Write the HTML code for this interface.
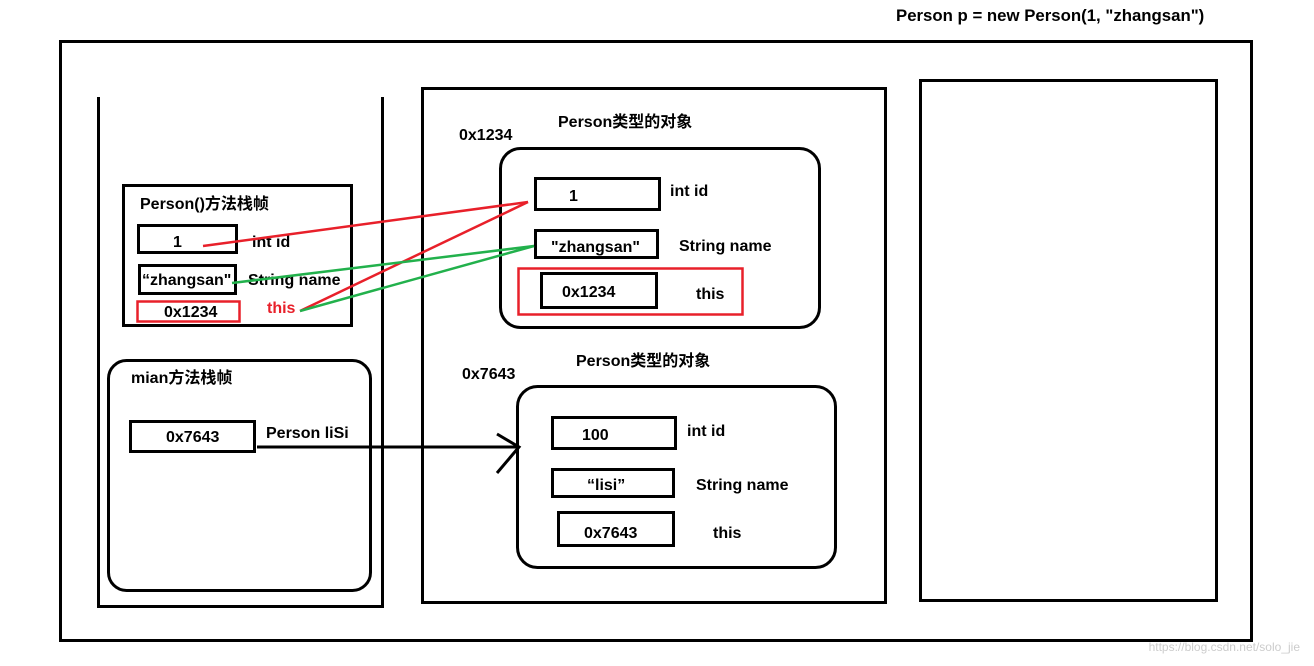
<!DOCTYPE html>
<html><head><meta charset="utf-8"><style>
html,body{margin:0;padding:0;background:#fff;}
svg{display:block;}
text{font-family:"Liberation Sans","Noto Sans CJK SC",sans-serif;font-weight:bold;font-size:16px;fill:#000;}
</style></head><body>
<svg width="1314" height="666" viewBox="0 0 1314 666" xmlns="http://www.w3.org/2000/svg">
<g fill="none" stroke="#000" stroke-width="3">
<rect x="60.5" y="41.5" width="1191" height="599"/>
<polyline points="98.5,97 98.5,606.5 382.5,606.5 382.5,97"/>
<rect x="123.5" y="185.5" width="228" height="140"/>
<rect x="138.5" y="225.5" width="98" height="27"/>
<rect x="139.5" y="265.5" width="96" height="28"/>
<rect x="108.5" y="360.5" width="262" height="230" rx="18"/>
<rect x="130.5" y="421.5" width="124" height="30"/>
<rect x="422.5" y="88.5" width="463" height="514"/>
<rect x="500.5" y="148.5" width="319" height="179" rx="20"/>
<rect x="535.5" y="178.5" width="124" height="31"/>
<rect x="535.5" y="230.5" width="122" height="27"/>
<rect x="541.5" y="273.5" width="115" height="34"/>
<rect x="517.5" y="386.5" width="318" height="181" rx="20"/>
<rect x="552.5" y="417.5" width="123" height="31"/>
<rect x="552.5" y="469.5" width="121" height="27"/>
<rect x="558.5" y="512.5" width="115" height="33"/>
<rect x="920.5" y="80.5" width="296" height="520"/>
<line x1="257" y1="447" x2="519" y2="447"/>
<polyline points="497,434 519,447 497,473"/>
</g>
<g fill="none" stroke="#e8202a" stroke-width="2.5">
<rect x="137.5" y="301.5" width="102" height="20"/>
<rect x="518.5" y="268.5" width="224" height="46"/>
</g>
<text x="140" y="209">Person()方法栈帧</text>
<text x="173" y="247">1</text>
<text x="252" y="247">int id</text>
<text x="142" y="285">“zhangsan"</text>
<text x="248" y="285">String name</text>
<text x="164" y="317">0x1234</text>
<text x="267" y="313" style="fill:#e8202a">this</text>
<text x="131" y="383">mian方法栈帧</text>
<text x="166" y="442">0x7643</text>
<text x="266" y="438">Person liSi</text>
<text x="459" y="140">0x1234</text>
<text x="558" y="127">Person类型的对象</text>
<text x="569" y="201">1</text>
<text x="670" y="196">int id</text>
<text x="551" y="252">"zhangsan"</text>
<text x="679" y="251">String name</text>
<text x="562" y="297">0x1234</text>
<text x="696" y="299">this</text>
<text x="462" y="379">0x7643</text>
<text x="576" y="366">Person类型的对象</text>
<text x="582" y="440">100</text>
<text x="687" y="436">int id</text>
<text x="587" y="490">“lisi”</text>
<text x="696" y="490">String name</text>
<text x="584" y="538">0x7643</text>
<text x="713" y="538">this</text>
<text x="896" y="21" style="font-size:16.8px">Person p = new Person(1, "zhangsan")</text>
<g fill="none" stroke-width="2.5">
<line x1="203" y1="246" x2="528" y2="202" stroke="#e8202a"/>
<line x1="300" y1="311" x2="528" y2="202" stroke="#e8202a"/>
<line x1="232" y1="283" x2="534" y2="246" stroke="#22b14c"/>
<line x1="300" y1="311" x2="534" y2="246" stroke="#22b14c"/>
</g>
<text x="1300" y="651" text-anchor="end" style="font-weight:normal;font-size:12px;fill:#ccc">https://blog.csdn.net/solo_jie</text>
</svg>
</body></html>
